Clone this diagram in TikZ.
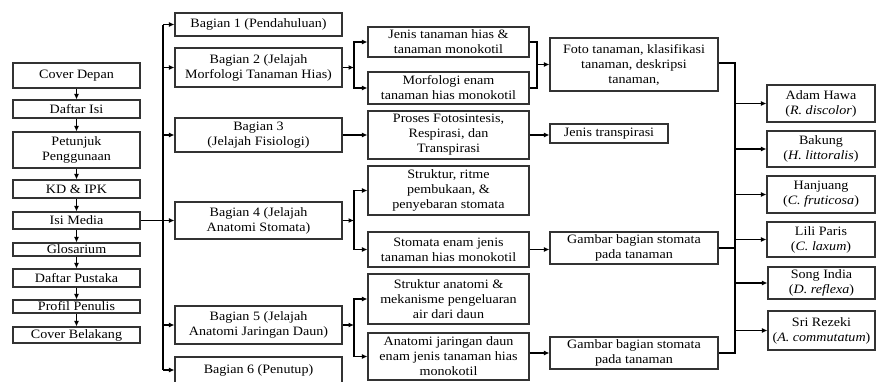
\documentclass[tikz,border=0pt]{standalone}
\usepackage{fontspec}
\setmainfont{Liberation Serif}[FakeStretch=1.1]
\usetikzlibrary{arrows.meta}

\begin{document}
\begin{tikzpicture}[x=1pt, y=-1pt,
	box/.style={draw=black!80, line width=1.1pt, inner sep=0pt, align=center,
		font=\fontsize{12.8}{15}\selectfont},
	conn/.style={line width=1.9pt, line join=miter},
	arr/.style={conn, -{Latex[length=5.5pt,width=5pt]}}]
	%%%%% START %%%%%
	\useasboundingbox (0,0) rectangle (876,381);
	
	% left column
	\node[box, minimum width=127, minimum height=25] (cover) at (76.5,75.5) {Cover Depan};
	\node[box, minimum width=127, minimum height=18] (daftar) at (76.5,109) {Daftar Isi};
	\node[box, minimum width=127, minimum height=36] (petunjuk) at (76.5,150) {Petunjuk\\Penggunaan};
	\node[box, minimum width=127, minimum height=18] (kd) at (76.5,189) {KD \& IPK};
	\node[box, minimum width=127, minimum height=17] (isi) at (76.5,220.5) {Isi Media};
	\node[box, minimum width=127, minimum height=13] (glos) at (76.5,249.5) {Glosarium};
	\node[box, minimum width=127, minimum height=18] (pustaka) at (76.5,278) {Daftar Pustaka};
	\node[box, minimum width=127, minimum height=13] (profil) at (76.5,306.5) {Profil Penulis};
	\node[box, minimum width=127, minimum height=16] (belakang) at (76.5,335) {Cover Belakang};
	
	\foreach \a/\b in {cover/daftar, daftar/petunjuk, petunjuk/kd, kd/isi, isi/glos,
		glos/pustaka, pustaka/profil, profil/belakang}
		\draw[arr] (\a.south) -- (\b.north);
	
	% bagian
	\node[box, minimum width=167, minimum height=23] (b1) at (258.5,24.5) {Bagian 1 (Pendahuluan)};
	\node[box, minimum width=167, minimum height=39] (b2) at (258.5,67.5) {Bagian 2 (Jelajah\\Morfologi Tanaman Hias)};
	\node[box, minimum width=167, minimum height=34] (b3) at (258.5,135) {Bagian 3\\(Jelajah Fisiologi)};
	\node[box, minimum width=167, minimum height=37] (b4) at (258.5,220.5) {Bagian 4 (Jelajah\\Anatomi Stomata)};
	\node[box, minimum width=167, minimum height=38] (b5) at (258.5,325) {Bagian 5 (Jelajah\\Anatomi Jaringan Daun)};
	\node[box, minimum width=167, minimum height=26] (b6) at (258.5,370) {Bagian 6 (Penutup)};
	
	\coordinate (ta) at (163,0);
	\draw[conn] (ta |- b1) -- (ta |- b6);
	\draw[arr] (isi.east) -- (b4.west);
	\foreach \n in {b1,b2,b3,b5,b6}
		\draw[arr] (ta |- \n) -- (\n.west);
	
	% materi
	\node[box, minimum width=161, minimum height=30] (jenis) at (448.5,42) {Jenis tanaman hias \&\\tanaman monokotil};
	\node[box, minimum width=161, minimum height=32] (morf) at (448.5,88) {Morfologi enam\\tanaman hias monokotil};
	\node[box, minimum width=161, minimum height=48] (proses) at (448.5,135) {Proses Fotosintesis,\\Respirasi, dan\\Transpirasi};
	\node[box, minimum width=161, minimum height=49] (struktur) at (448.5,190.5) {Struktur, ritme\\pembukaan, \&\\penyebaran stomata};
	\node[box, minimum width=161, minimum height=35] (stomata) at (448.5,249.5) {Stomata enam jenis\\tanaman hias monokotil};
	\node[box, minimum width=161, minimum height=50] (anat) at (448.5,299) {Struktur anatomi \&\\mekanisme pengeluaran\\air dari daun};
	\node[box, minimum width=161, minimum height=47] (jaringan) at (448.5,356.5) {Anatomi jaringan daun\\enam jenis tanaman hias\\monokotil};
	
	\coordinate (sa) at (354,0);
	\draw[arr] (b2.east) -- (sa |- b2);
	\draw[arr] (sa |- b2) |- (jenis.west);
	\draw[arr] (sa |- b2) |- (morf.west);
	\draw[arr] (b3.east) -- (proses.west);
	\draw[arr] (b4.east) -- (sa |- b4);
	\draw[arr] (sa |- b4) |- (struktur.west);
	\draw[arr] (sa |- b4) |- (stomata.west);
	\draw[arr] (b5.east) -- (sa |- b5);
	\draw[arr] (sa |- b5) |- (anat.west);
	\draw[arr] (sa |- b5) |- (jaringan.west);
	
	% hasil
	\node[box, minimum width=168, minimum height=53] (foto) at (634,64.5) {Foto tanaman, klasifikasi\\tanaman, deskripsi\\tanaman,};
	\node[box, minimum width=118, minimum height=19] (transp) at (609,133.5) {Jenis transpirasi};
	\node[box, minimum width=168, minimum height=32] (gambar1) at (634,248) {Gambar bagian stomata\\pada tanaman};
	\node[box, minimum width=168, minimum height=32] (gambar2) at (634,353) {Gambar bagian stomata\\pada tanaman};
	
	\coordinate (ma) at (537,0);
	\draw[conn] (jenis.east) -| (ma |- foto) |- (morf.east);
	\draw[arr] (ma |- foto) -- (foto.west);
	\draw[arr] (proses.east) -- (proses.east -| transp.west);
	\draw[arr] (stomata.east) -- (stomata.east -| gambar1.west);
	\draw[arr] (jaringan.east |- gambar2) -- (gambar2.west);
	
	% tanaman
	\node[box, minimum width=108, minimum height=37] (adam) at (821,103.5) {Adam Hawa\\(\textit{R. discolor})};
	\node[box, minimum width=108, minimum height=36] (bakung) at (821,149) {Bakung\\(\textit{H. littoralis})};
	\node[box, minimum width=108, minimum height=37] (hanjuang) at (821,194.5) {Hanjuang\\(\textit{C. fruticosa})};
	\node[box, minimum width=108, minimum height=35] (lili) at (821,239.5) {Lili Paris\\(\textit{C. laxum})};
	\node[box, minimum width=107, minimum height=32] (song) at (821.5,283) {Song India\\(\textit{D. reflexa})};
	\node[box, minimum width=107, minimum height=39] (sri) at (821.5,330.5) {Sri Rezeki\\(\textit{A. commutatum})};
	
	\coordinate (rb) at (735,0);
	\draw[conn] (foto.east |- 0,63) -- (rb |- 0,63) -- (rb |- gambar2) -- (gambar2.east);
	\draw[conn] (gambar1.east) -- (rb |- gambar1);
	\foreach \n in {adam,bakung,hanjuang,lili,song,sri}
		\draw[arr] (rb |- \n) -- (\n.west);
	
	%%%%% END %%%%%
\end{tikzpicture}
\end{document}
